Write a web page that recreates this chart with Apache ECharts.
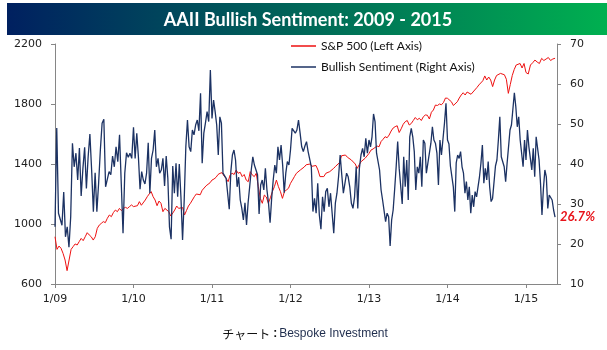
<!DOCTYPE html>
<html><head><meta charset="utf-8">
<script src="https://cdn.jsdelivr.net/npm/echarts@6/dist/echarts.min.js"></script>
<style>html,body{margin:0;padding:0;background:#fff}#c{width:607px;height:350px}</style>
</head><body><div id="c"></div>
<script>
// ---- Data ----
const years = [2009, 2010, 2011, 2012, 2013, 2014, 2015];
const xTickLabels = ['1/09', '1/10', '1/11', '1/12', '1/13', '1/14', '1/15'];
const leftTicks = [600, 1000, 1400, 1800, 2200];
const lastObservation = 2015.37; // last weekly reading (early May 2015)

// AAII Bullish Sentiment (%), right axis
const sent2009 = [24.3,49,27.7,27.2,24.7,33,21.8,24.3,19.2,26.8,45.2,39.3,42.7,36,44,32,38.9,44.2,33.9,41.8,47.5,38.5,28.1,37.8,28.1,35.2,43.5,50.2,51.2,34.3,34.3,38.1,37.3,42,39.3,44.3,40.6,47.3,35,22.7,37.7,42.8,41.7,42.7,41.4];
const sent2010 = [49.2,41.4,47.7,41.8,33.7,38.1,36,35,37.7,45.3,32.7,41.4,43.5,48.5,39.3,41.4,37.7,38.5,41.4,34.5,42,36.4,24.3,21.2,39.5,32.7,40.2,31.8,40,31.8,21,31,44.3,51,44.3,43.1,48.5,47.3,49.75,51,48.3,57.7,40.2,47.7,50.3,53.1,50.6,63.5];
const sent2011 = [51.4,56,53.1,49.75,42.25,51.8,50.2,37.7,37.3,36.4,36.8,28.7,38.1,42.25,43.5,41,34.3,36.7,31,28.9,26,30.3,24.75,30.3,34.3,38.5,41.8,39.75,39.3,37.3,27.5,34.75,36,33.5,38.9,33.5,30.2,25.3,31.4,36,39.75,37.7,44.3,41,44.75,39.75,32.8,37.7,40.6,39.75];
const sent2012 = [43.5,48.9,48.7,47.7,48.5,51,47.7,44.3,43.1,44.5,45.6,43.1,43.5,39.3,28.1,31.4,27.7,35.2,27.25,23.7,31.8,28.1,33.1,33.9,29.3,32.7,27.7,22.7,30.2,32.7,36.8,42.25,37.3,32.7,35.2,37.7,36.8,34.3,30.2,28.9,31.8,39.3,28.9,38.9,42.25,43.9,41.8,46.4,42.7];
const sent2013 = [46,44.3,46.8,52.5,50.6,42.7,42.25,38.5,33.5,31,31.4,25.6,27.7,26.8,19.5,26,28.5,33.7,39.3,45.6,38.9,38.5,30,41.8,34.3,41,31,46.8,48.9,46.8,43.1,33.5,39.3,37.7,41.8,34.3,46,45.2,37.7,40.2,40.6,45.2,49.3,46,45.2,42.7,34.75,46,42.25,41.8,50.2,55.2];
const sent2014 = [46,45,39.5,39.3,34.3,28.1,40.3,42.25,41.4,43.1,39.3,37.7,32.7,35.6,31,34.3,27.7,32.25,29.3,33.1,31.8,34.3,36.8,40.2,44.75,35.2,38.9,36,40.6,34.3,30.6,31.4,31,39.5,41,46,51.8,41.8,42.25,39.3,35.6,40.2,44.3,48.5,49.75,49.75,57.8,54.3,49.3,51.8,46,42.7,39.3,46];
const sent2015 = [41,48.5,44.3,41.4,38.5,43.9,36.8,46.8,46.4,41,35.2,27.25,33.9,38.5,36.8,28.9,32.25,31.8,31,28.5,26.7];

// S&P 500, left axis
const sp2009 = [915,831,853,838,804,760,689,760,831,849,867,860,882,904,889,915,942,927,915,893,915,971,993,1004,1016,1009,1038,1060,1049,1076,1093,1082,1104,1089,1104,1111,1104,1116,1127];
const sp2010 = [1116,1116,1122,1149,1125,1120,1160,1182,1200,1216,1182,1160,1122,1153,1138,1082,1104,1116,1082,1053,1049,1093,1120,1104,1093,1110,1060,1090,1120,1138,1160,1182,1200,1210,1195,1225,1235,1255,1265,1275];
const sp2011 = [1293,1300,1311,1330,1338,1342,1320,1304,1282,1327,1338,1330,1360,1338,1345,1316,1330,1293,1282,1349,1327,1316,1338,1249,1171,1138,1193,1180,1138,1175,1216,1249,1293,1249,1216,1171,1216,1227,1238];
const sp2012 = [1271,1293,1316,1338,1349,1360,1371,1380,1395,1405,1400,1385,1375,1390,1360,1316,1322,1316,1338,1345,1349,1360,1371,1385,1398,1409,1455,1449,1460,1445,1438,1427,1420,1400,1371,1395,1416,1420,1438,1440];
const sp2013 = [1470,1493,1500,1510,1520,1515,1550,1565,1582,1575,1593,1620,1640,1649,1655,1610,1635,1665,1682,1690,1660,1670,1690,1710,1695,1705,1690,1715,1727,1725,1700,1745,1760,1793,1790,1800,1795,1810,1840];
const sp2014 = [1838,1825,1815,1790,1782,1815,1840,1860,1875,1860,1880,1870,1865,1880,1893,1910,1927,1940,1955,1987,1960,1980,1960,1916,1960,1990,2000,2004,2000,1995,1965,1871,1930,1990,2030,2060,2067,2070,2040,2070];
const sp2015 = [2010,2000,2060,2075,2093,2080,2070,2104,2090,2100,2110,2090,2100,2105];

// ---- Build [time, value] pairs: readings spread over each calendar year ----
function toPairs(arrays) {
  const out = [];
  arrays.forEach(function (arr, k) {
    const y = years[k];
    const n = arr.length;
    const partial = (y === years[years.length - 1]);
    arr.forEach(function (v, i) {
      const t = partial ? i * (lastObservation - y) / (n - 1) : i / n;
      out.push([y + t, v]);
    });
  });
  return out;
}
const spData = toPairs([sp2009, sp2010, sp2011, sp2012, sp2013, sp2014, sp2015]);
const sentData = toPairs([sent2009, sent2010, sent2011, sent2012, sent2013, sent2014, sent2015]);

const axisGray = '#868686';
const labelFont = { color: '#222', fontSize: 11, fontFamily: 'DejaVu Sans' };

const chart = echarts.init(document.getElementById('c'), null, { renderer: 'canvas' });
chart.setOption({
  animation: false,
  backgroundColor: '#fff',
  grid: { left: 55, right: 50, top: 44, bottom: 66 },
  graphic: [
    {
      type: 'rect', left: 7, top: 3, z: 0,
      shape: { width: 600, height: 32 },
      style: {
        fill: new echarts.graphic.LinearGradient(0, 0, 1, 0, [
          { offset: 0, color: '#002060' },
          { offset: 1, color: '#00B050' }
        ])
      }
    },
    {
      type: 'text', x: 308, y: 20, z: 1,
      style: {
        text: 'AAII Bullish Sentiment: 2009 - 2015',
        fill: '#fff', font: 'bold 18px Lato, sans-serif',
        align: 'center', verticalAlign: 'middle'
      }
    },
    {
      type: 'text', x: 305, y: 334, z: 1,
      style: {
        text: '{a|チャート}{c|:}{b|Bespoke Investment}',
        align: 'center', verticalAlign: 'middle',
        rich: {
          a: { fill: '#111', fontSize: 12, fontFamily: '"Noto Sans CJK JP"' },
          c: { fill: '#111', fontSize: 12, fontWeight: 'bold', fontFamily: '"Liberation Sans"', padding: [0, 2, 0, 3] },
          b: { fill: '#1f2d4d', fontSize: 12, fontFamily: '"Liberation Sans"' }
        }
      }
    }
  ],
  legend: {
    orient: 'vertical', left: 286, top: 34, itemGap: 7,
    itemWidth: 25, itemHeight: 1.5, icon: 'rect',
    textStyle: { color: '#111', fontSize: 12, fontFamily: 'Lato', lineHeight: 14 },
    data: ['S&P 500 (Left Axis)', 'Bullish Sentiment (Right Axis)']
  },
  xAxis: {
    type: 'value', min: 2009, max: 2015.395,
    axisLine: { lineStyle: { color: axisGray, width: 1 } },
    axisTick: { show: true, length: 4, lineStyle: { color: axisGray }, customValues: years },
    axisLabel: Object.assign({ margin: 10, customValues: years,
      formatter: function (v) { return xTickLabels[years.indexOf(Math.round(v))] || ''; } }, labelFont),
    splitLine: { show: false }
  },
  yAxis: [
    {
      type: 'value', position: 'left', min: 600, max: 2200,
      axisLine: { show: true, lineStyle: { color: axisGray } },
      axisTick: { show: true, length: 4, lineStyle: { color: axisGray }, customValues: leftTicks },
      axisLabel: Object.assign({ margin: 13, customValues: leftTicks,
        formatter: function (v) { return String(v); } }, labelFont),
      splitLine: { show: false }
    },
    {
      type: 'value', position: 'right', min: 10, max: 70, interval: 10,
      axisLine: { show: true, lineStyle: { color: axisGray } },
      axisTick: { show: true, length: 4, lineStyle: { color: axisGray } },
      axisLabel: Object.assign({ margin: 13 }, labelFont),
      splitLine: { show: false }
    }
  ],
  series: [
    {
      name: 'S&P 500 (Left Axis)', type: 'line', yAxisIndex: 0,
      data: spData, showSymbol: false, symbol: 'none',
      lineStyle: { color: '#ee1111', width: 1 }, itemStyle: { color: '#ee1111' }
    },
    {
      name: 'Bullish Sentiment (Right Axis)', type: 'line', yAxisIndex: 1,
      data: sentData, showSymbol: false, symbol: 'none',
      lineStyle: { color: '#1c3263', width: 1.3 }, itemStyle: { color: '#1c3263' },
      endLabel: {
        show: true, distance: 5,
        formatter: function (p) { return p.value[1].toFixed(1) + '%'; },
        color: '#e8141b', fontWeight: 'bold', fontStyle: 'italic', fontSize: 13,
        fontFamily: 'Lato'
      }
    }
  ]
});
</script>
</body></html>
